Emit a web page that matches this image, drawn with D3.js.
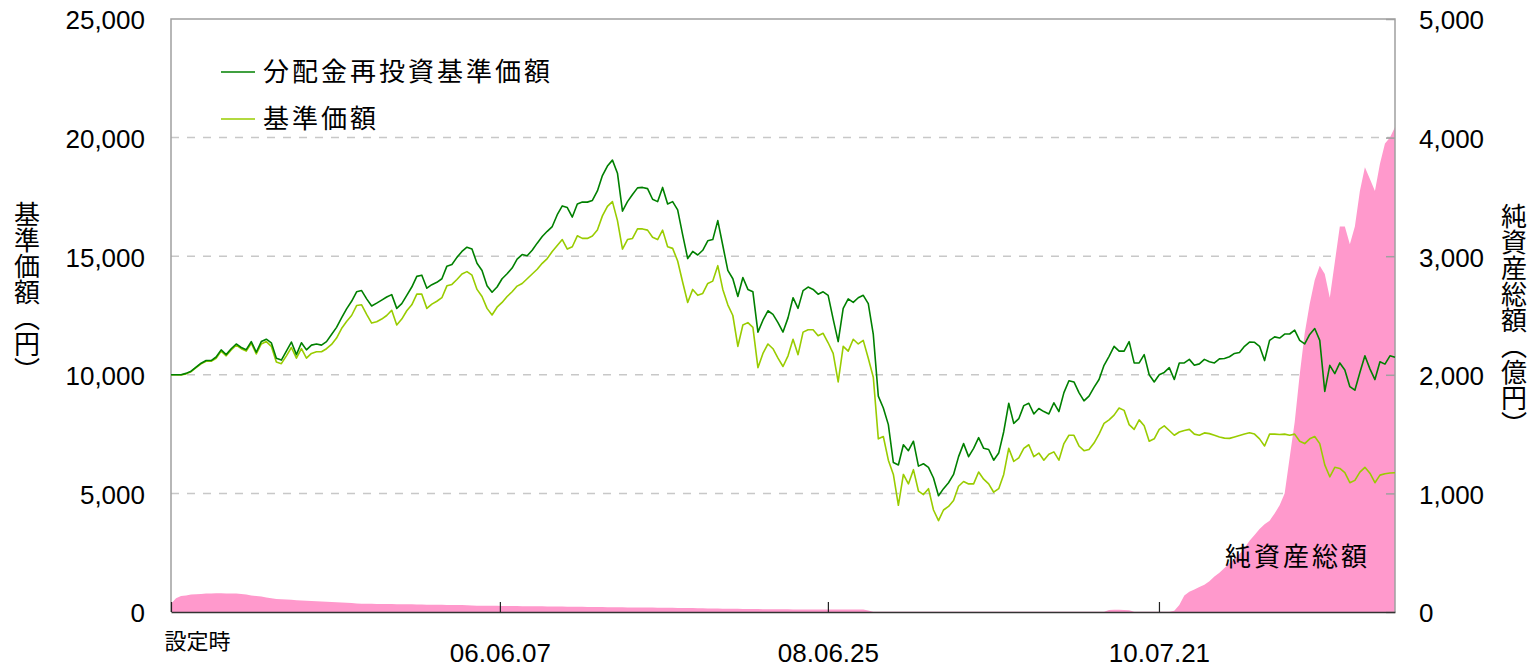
<!DOCTYPE html>
<html><head><meta charset="utf-8">
<script src="https://cdn.jsdelivr.net/npm/d3@7"></script>
<style>
html,body{margin:0;padding:0;background:#fff;}
svg{display:block;}
</style></head>
<body>
<svg id="chart" width="1535" height="667"></svg>
<script>
// ---- data (sampled roughly every 11 days from inception) ----
const startDate = new Date(2004, 4, 17);
const endDate = new Date(2012, 0, 11);
const tickDates = [new Date(2004, 4, 17), new Date(2006, 5, 7), new Date(2008, 5, 25), new Date(2010, 6, 21)];
const tickLabels = ["設定時", "06.06.07", "08.06.25", "10.07.21"];
const leftTicks = [0, 5000, 10000, 15000, 20000, 25000];
const rightTicks = [0, 1000, 2000, 3000, 4000, 5000];
const seriesNames = ["分配金再投資基準価額", "基準価額"];
const areaName = "純資産総額";

// 分配金再投資基準価額 (円)
const reinvested = [
10000,10000,10000,10060,10150,10320,10490,10600,10600,10750,
11050,10850,11100,11300,11150,11060,11400,10950,11400,11500,
11350,10700,10620,11000,11380,10850,11350,11050,11250,11300,
11250,11400,11700,12000,12400,12780,13100,13500,13550,13200,
12900,13020,13150,13280,13380,12800,13000,13350,13700,14150,
14200,13650,13800,13900,14050,14580,14650,14950,15200,15380,
15300,14700,14400,13750,13480,13700,14050,14260,14500,14880,
15070,15020,15250,15550,15830,16050,16250,16750,17120,17050,
16650,17200,17280,17280,17350,17750,18400,18800,19050,18500,
16900,17300,17600,17880,17900,17850,17400,17300,17900,17200,
17300,16950,15900,14900,15200,15050,15250,15650,15700,16500,
15450,14400,14050,13300,14100,13600,13500,11800,12300,12700,
12550,12200,11800,12400,13250,12800,13550,13700,13600,13400,
13500,13350,12350,11400,12800,13200,13050,13250,13350,13000,
11700,9100,8600,7900,6300,6200,7050,6800,7200,6150,
6250,6100,5650,4900,5200,5450,5800,6550,7100,6550,
6900,7350,6900,6850,6400,6700,7600,8800,7950,8150,
8700,8800,8350,8580,8450,8350,8820,8450,9250,9750,
9700,9250,8900,9100,9470,9800,10400,10780,11200,11000,
11000,11400,10500,10500,10850,10000,9700,10000,10100,10300,
9800,10500,10500,10650,10400,10460,10650,10550,10500,10670,
10690,10760,10900,10940,11200,11380,11370,11200,10600,11450,
11600,11550,11720,11720,11880,11450,11300,11700,11950,11450,
9300,10400,10050,10500,10200,9500,9350,10100,10800,10250,
9800,10550,10450,10800,10740
];

// 基準価額 (円)
const nav = [
10000,10000,9990,10040,10130,10300,10460,10570,10570,10700,
11000,10800,11050,11250,11100,11000,11330,10880,11300,11400,
11200,10540,10470,10800,11150,10700,11100,10700,10900,10970,
10970,11100,11280,11550,11950,12250,12500,12920,12950,12550,
12180,12240,12350,12500,12720,12100,12350,12700,12950,13400,
13400,12800,12980,13100,13250,13750,13810,14020,14250,14350,
14200,13600,13300,12800,12520,12850,13050,13300,13500,13740,
13850,14050,14250,14450,14700,14900,15200,15450,15700,15300,
15400,15860,15750,15750,15850,16100,16700,17100,17300,16500,
15300,15700,15750,16150,16150,16100,15800,15700,16100,15400,
15330,14800,13900,13050,13600,13350,13430,13850,13950,14600,
13600,12950,12500,11200,12100,12200,12000,10300,10900,11300,
11100,10700,10350,10800,11500,10850,11800,11900,11900,11650,
11750,11350,10900,9700,11200,11000,11500,11300,11450,10700,
9900,7300,7400,6400,5800,4500,5800,5400,6000,5100,
4950,5200,4300,3850,4300,4450,4700,5300,5500,5400,
5400,5900,5600,5400,5050,5200,5800,6900,6350,6500,
6900,7050,6550,6700,6400,6650,6750,6400,7100,7450,
7450,7000,6800,6850,7120,7500,7950,8100,8300,8600,
8500,7900,7700,8100,7850,7200,7300,7700,7850,7650,
7450,7590,7650,7700,7500,7450,7550,7520,7450,7380,
7330,7320,7380,7440,7500,7560,7500,7300,7000,7500,
7500,7480,7500,7450,7500,7200,7100,7300,7400,7100,
6200,5700,6100,6050,5880,5450,5550,5900,6100,5850,
5450,5770,5830,5860,5870
];

// 純資産総額 (億円)
const netAssets = [
70,115,135,140,148,150,152,155,157,158,
158,157,156,155,152,148,140,135,130,122,
115,110,107,105,103,100,97,94,92,90,
88,86,84,82,80,78,75,72,70,69,
69,68,68,67,67,66,66,65,65,64,
63,62,62,61,61,60,60,59,58,57,
55,53,53,52,52,52,51,51,50,50,
49,49,48,48,48,47,47,46,46,45,
45,44,44,43,43,42,42,41,41,40,
40,39,39,38,38,37,37,36,36,35,
35,34,34,33,33,32,31,30,30,29,
28,28,27,27,26,26,25,25,24,24,
24,23,23,23,22,22,22,22,22,21,
21,21,22,22,22,22,22,22,21,12,
3,3,3,3,3,3,3,3,3,3,
3,3,3,3,3,3,3,3,3,3,
3,3,3,3,3,3,3,3,3,3,
3,3,3,3,3,3,3,3,3,3,
3,3,3,3,3,3,3,16,18,18,
17,15,3,3,3,3,3,3,3,3,
10,60,140,170,190,210,230,260,300,330,
370,410,445,490,540,600,650,700,740,770,
830,900,1000,1300,1600,2000,2350,2600,2800,2920,
2850,2650,2950,3250,3250,3100,3250,3550,3750,3650,
3550,3780,3950,4000,4090
];

const N = reinvested.length;
const stepMs = (endDate - startDate) / (N - 1);
const dates = d3.range(N).map(i => new Date(startDate.getTime() + i * stepMs));

// ---- layout ----
const svg = d3.select("#chart");
const L = 171, R = 1395, T = 19, B = 612;
const numFont = "'Liberation Sans', Arial, sans-serif";
const jpFont = "'Noto Sans CJK JP', sans-serif";

const x = d3.scaleTime().domain([startDate, endDate]).range([L, R]);
const yL = d3.scaleLinear().domain([0, 25000]).range([B, T]);
const yR = d3.scaleLinear().domain([0, 5000]).range([B, T]);

// gridlines
svg.append("g").selectAll("line")
  .data(leftTicks.filter(v => v > 0 && v < 25000))
  .join("line")
  .attr("x1", L).attr("x2", R)
  .attr("y1", d => yL(d)).attr("y2", d => yL(d))
  .attr("stroke", "#c8c8c8").attr("stroke-width", 1.5)
  .attr("stroke-dasharray", "8,8");

// net assets area
const area = d3.area()
  .x((d, i) => x(dates[i]))
  .y0(yR(0))
  .y1(d => yR(d));
svg.append("path").datum(netAssets)
  .attr("d", area)
  .attr("fill", "#ff99cc");

// frame (left, top, right)
svg.append("path")
  .attr("d", `M${L},${B}V${T}H${R}V${B}`)
  .attr("fill", "none").attr("stroke", "#a0a0a0").attr("stroke-width", 1.5);

// lines
const line = d3.line().x((d, i) => x(dates[i])).y(d => yL(d));
svg.append("path").datum(nav).attr("d", line)
  .attr("fill", "none").attr("stroke", "#99cc00").attr("stroke-width", 1.6)
  .attr("stroke-linejoin", "round");
svg.append("path").datum(reinvested).attr("d", line)
  .attr("fill", "none").attr("stroke", "#008000").attr("stroke-width", 1.6)
  .attr("stroke-linejoin", "round");

// left axis
const gL = svg.append("g").attr("transform", `translate(${L},0)`)
  .call(d3.axisLeft(yL).tickValues(leftTicks).tickFormat(d3.format(",")).tickSize(0).tickPadding(26));
gL.select(".domain").remove();
gL.selectAll("text").attr("font-family", numFont).attr("font-size", 26).attr("fill", "#000").attr("dy", "0.38em");

// right axis
const gR = svg.append("g").attr("transform", `translate(${R},0)`)
  .call(d3.axisRight(yR).tickValues(rightTicks).tickFormat(d3.format(",")).tickSizeInner(-9).tickSizeOuter(0).tickPadding(24));
gR.select(".domain").remove();
gR.selectAll("line").attr("stroke", "#a0a0a0").attr("stroke-width", 1.5);
gR.selectAll("text").attr("font-family", numFont).attr("font-size", 26).attr("fill", "#000").attr("dy", "0.38em");

// bottom axis
const gB = svg.append("g").attr("transform", `translate(0,${B})`)
  .call(d3.axisBottom(x).tickValues(tickDates).tickFormat((d, i) => tickLabels[i]).tickSizeInner(-10).tickSizeOuter(0).tickPadding(32));
gB.select(".domain").attr("stroke", "#333").attr("stroke-width", 1.5);
gB.selectAll("line").attr("stroke", "#222").attr("stroke-width", 1.2);
gB.selectAll("text").attr("font-family", numFont).attr("font-size", 26).attr("fill", "#000");
gB.selectAll(".tick").filter((d, i) => i === 0).select("text")
  .attr("font-family", jpFont).attr("font-size", 22)
  .attr("text-anchor", "start").attr("x", -7).attr("y", 21);

// axis titles (vertical)
svg.append("text").text("基準価額（円）")
  .attr("x", 27).attr("y", 292)
  .attr("font-family", jpFont).attr("font-size", 26).attr("fill", "#000")
  .attr("text-anchor", "middle")
  .style("writing-mode", "vertical-rl").style("text-orientation", "upright");
svg.append("text").text("純資産総額（億円）")
  .attr("x", 1514).attr("y", 320)
  .attr("font-family", jpFont).attr("font-size", 26).attr("fill", "#000")
  .attr("text-anchor", "middle")
  .style("writing-mode", "vertical-rl").style("text-orientation", "upright");

// legend
const legColors = ["#008000", "#99cc00"];
const leg = svg.append("g");
seriesNames.forEach((name, i) => {
  const ly = 72 + i * 47;
  leg.append("line").attr("x1", 221).attr("x2", 255).attr("y1", ly).attr("y2", ly)
    .attr("stroke", legColors[i]).attr("stroke-width", 1.6);
  leg.append("text").text(name).attr("x", 263).attr("y", ly)
    .attr("dy", "0.36em")
    .attr("font-family", jpFont).attr("font-size", 26).attr("letter-spacing", 3).attr("fill", "#000");
});

// area label
svg.append("text").text(areaName)
  .attr("x", 1225).attr("y", 557).attr("dy", "0.36em")
  .attr("font-family", jpFont).attr("font-size", 26).attr("letter-spacing", 3).attr("fill", "#000");
</script>
</body></html>
